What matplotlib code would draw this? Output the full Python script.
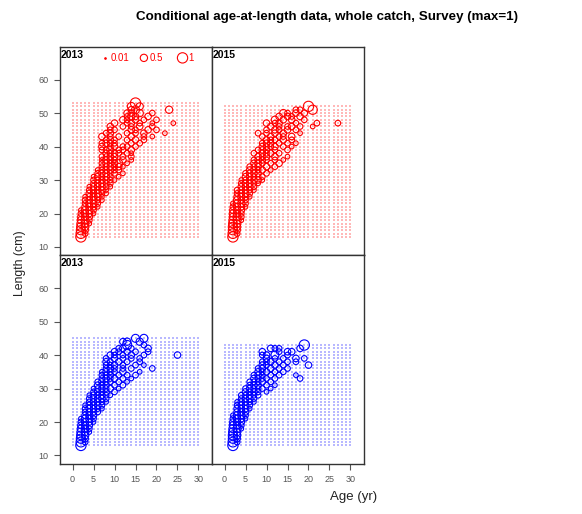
import numpy as np
import matplotlib
matplotlib.use("Agg")
import matplotlib.pyplot as plt

plt.rcParams["font.family"] = ["Liberation Sans", "DejaVu Sans"]

# conditional age-at-length proportions: {length bin (cm): {age (yr): proportion}}
caal_red_2013 = {
    13: {2: 1.0}, 14: {2: .9, 3: .3}, 15: {2: .8, 3: .4}, 16: {2: .7, 3: .5},
    17: {2: .6, 3: .5, 4: .2}, 18: {2: .5, 3: .6, 4: .3}, 19: {2: .4, 3: .5, 4: .4},
    20: {2: .3, 3: .5, 4: .4, 5: .2}, 21: {2: .2, 3: .5, 4: .5, 5: .3},
    22: {3: .4, 4: .5, 5: .4, 6: .2}, 23: {3: .3, 4: .5, 5: .4, 6: .3},
    24: {3: .3, 4: .4, 5: .5, 6: .3, 7: .2}, 25: {3: .2, 4: .4, 5: .5, 6: .4, 7: .2},
    26: {4: .4, 5: .4, 6: .5, 7: .3, 8: .2}, 27: {4: .3, 5: .4, 6: .4, 7: .4, 8: .2},
    28: {4: .2, 5: .4, 6: .4, 7: .4, 8: .3, 9: .2}, 29: {5: .3, 6: .4, 7: .4, 8: .3, 9: .3},
    30: {5: .3, 6: .3, 7: .4, 8: .4, 9: .3, 10: .2},
    31: {5: .2, 6: .4, 7: .3, 8: .4, 9: .3, 11: .2},
    32: {6: .3, 7: .4, 8: .4, 9: .3, 10: .3, 12: .2},
    33: {6: .2, 7: .3, 8: .4, 9: .4, 10: .3, 11: .3},
    34: {7: .3, 8: .3, 9: .4, 10: .3, 11: .4, 12: .2},
    35: {7: .3, 8: .4, 9: .3, 10: .4, 11: .6, 13: .2},
    36: {7: .2, 8: .4, 9: .4, 10: .3, 12: .4, 14: .2},
    37: {7: .3, 8: .3, 9: .4, 10: .4, 12: .3, 14: .3},
    38: {8: .4, 9: .3, 10: .4, 11: .3, 13: .3, 14: .2},
    39: {7: .3, 8: .3, 9: .5, 11: .3, 12: .3, 14: .4},
    40: {7: .4, 9: .3, 10: .4, 12: .3, 13: .3, 15: .3},
    41: {7: .3, 8: .4, 9: .3, 10: .3, 14: .3, 16: .3},
    42: {8: .3, 9: .4, 10: .3, 13: .3, 15: .4, 17: .3},
    43: {7: .4, 9: .3, 11: .3, 14: .4, 17: .3, 19: .2},
    44: {8: .3, 9: .4, 13: .3, 15: .3, 17: .4, 22: .2},
    45: {9: .3, 10: .3, 14: .4, 15: .3, 18: .4, 20: .3},
    46: {9: .4, 12: .3, 14: .3, 16: .4, 19: .3},
    47: {10: .4, 13: .3, 14: .4, 16: .3, 19: .2, 24: .2},
    48: {12: .4, 13: .3, 15: .4, 17: .3, 20: .3},
    49: {13: .3, 14: .5, 15: .4, 18: .4}, 50: {13: .4, 14: .4, 16: .5, 19: .3},
    51: {14: .4, 15: .6, 23: .5}, 52: {14: .6, 16: .5}, 53: {15: 1.0},
}

caal_red_2015 = {
    13: {2: 1.0}, 14: {2: .9, 3: .3}, 15: {2: .8, 3: .4}, 16: {2: .8, 3: .5},
    17: {2: .7, 3: .5}, 18: {2: .6, 3: .6, 4: .2}, 19: {2: .5, 3: .6, 4: .3},
    20: {2: .5, 3: .5, 4: .3}, 21: {2: .4, 3: .5, 4: .4},
    22: {2: .3, 3: .5, 4: .4, 5: .2}, 23: {2: .2, 3: .5, 4: .5, 5: .3},
    24: {3: .5, 4: .4, 5: .3}, 25: {3: .4, 4: .5, 5: .4, 6: .2},
    26: {3: .3, 4: .4, 5: .4, 6: .3}, 27: {3: .3, 4: .4, 5: .4, 6: .3, 7: .2},
    28: {4: .4, 5: .4, 6: .4, 7: .3}, 29: {4: .3, 5: .4, 6: .4, 7: .3, 8: .2},
    30: {4: .2, 5: .3, 6: .4, 7: .4, 8: .4, 9: .2},
    31: {5: .4, 6: .4, 7: .3, 8: .3, 9: .3}, 32: {5: .3, 6: .4, 7: .4, 8: .4, 10: .3},
    33: {6: .4, 7: .4, 8: .3, 9: .4, 11: .2}, 34: {6: .3, 7: .3, 8: .4, 10: .4, 12: .3},
    35: {7: .4, 8: .4, 9: .3, 11: .3, 13: .4},
    36: {7: .3, 8: .4, 9: .4, 10: .3, 12: .3, 14: .2},
    37: {8: .4, 9: .3, 10: .4, 12: .4, 15: .2}, 38: {7: .3, 9: .4, 10: .3, 11: .4, 13: .3},
    39: {8: .3, 9: .4, 10: .4, 12: .3, 15: .3},
    40: {9: .4, 10: .3, 11: .3, 12: .4, 14: .3, 16: .2},
    41: {9: .3, 10: .4, 11: .4, 13: .3, 15: .3, 17: .2},
    42: {10: .4, 11: .3, 12: .3, 14: .4, 16: .3},
    43: {9: .3, 11: .4, 13: .3, 14: .3, 16: .4},
    44: {8: .3, 10: .3, 12: .4, 14: .4, 18: .2},
    45: {10: .3, 12: .4, 13: .3, 15: .4, 17: .3},
    46: {11: .4, 13: .3, 15: .3, 16: .4, 18: .3, 21: .2},
    47: {10: .4, 12: .3, 13: .4, 17: .3, 22: .3, 27: .3},
    48: {12: .5, 14: .4, 16: .4, 19: .3}, 49: {13: .4, 15: .4, 16: .3, 18: .4},
    50: {14: .5, 15: .3, 17: .4, 19: .4}, 51: {17: .3, 18: .3, 21: .8},
    52: {20: 1.0},
}

caal_blue_2013 = {
    13: {2: 1.0}, 14: {2: .9, 3: .3}, 15: {2: .8, 3: .4}, 16: {2: .7, 3: .5},
    17: {2: .6, 3: .5, 4: .2}, 18: {2: .5, 3: .5, 4: .3}, 19: {2: .4, 3: .5, 4: .4},
    20: {2: .3, 3: .5, 4: .4, 5: .2}, 21: {2: .2, 3: .5, 4: .5, 5: .3},
    22: {3: .4, 4: .5, 5: .4}, 23: {3: .3, 4: .4, 5: .4, 6: .3},
    24: {3: .3, 4: .4, 5: .4, 6: .3, 7: .2}, 25: {3: .2, 4: .4, 5: .4, 6: .4, 7: .3},
    26: {4: .3, 5: .4, 6: .4, 7: .3, 8: .2}, 27: {4: .3, 5: .3, 6: .4, 7: .4, 8: .3},
    28: {4: .2, 5: .4, 6: .3, 7: .4, 8: .3, 9: .2}, 29: {5: .3, 6: .4, 7: .3, 8: .4, 10: .3},
    30: {5: .2, 6: .3, 7: .4, 8: .3, 9: .4, 11: .2},
    31: {6: .4, 7: .3, 8: .4, 10: .3, 12: .3},
    32: {6: .3, 7: .4, 8: .3, 9: .3, 11: .3, 13: .2},
    33: {7: .3, 8: .4, 9: .3, 10: .4, 12: .3, 14: .2},
    34: {7: .3, 8: .3, 9: .4, 11: .3, 13: .3, 15: .3},
    35: {7: .2, 8: .4, 9: .3, 10: .3, 12: .4, 16: .2},
    36: {8: .3, 9: .4, 10: .3, 12: .3, 14: .3, 19: .3},
    37: {8: .3, 9: .3, 10: .4, 12: .3, 15: .3, 17: .2},
    38: {8: .4, 9: .3, 11: .4, 13: .3, 16: .3},
    39: {8: .3, 10: .4, 12: .3, 14: .3, 16: .3},
    40: {9: .4, 10: .3, 12: .3, 14: .4, 17: .3, 25: .4},
    41: {10: .4, 11: .3, 13: .4, 15: .3, 18: .3},
    42: {11: .3, 12: .4, 14: .3, 18: .4}, 43: {13: .8, 17: .3},
    44: {12: .4, 13: .5, 16: .5}, 45: {15: .6, 17: .6},
}

caal_blue_2015 = {
    13: {2: 1.0}, 14: {2: .9, 3: .3}, 15: {2: .8, 3: .4}, 16: {2: .8, 3: .5},
    17: {2: .7, 3: .5}, 18: {2: .6, 3: .6, 4: .2}, 19: {2: .5, 3: .5, 4: .3},
    20: {2: .4, 3: .5, 4: .4}, 21: {2: .3, 3: .5, 4: .4, 5: .2},
    22: {2: .2, 3: .5, 4: .5, 5: .3}, 23: {3: .4, 4: .5, 5: .4},
    24: {3: .4, 4: .4, 5: .4, 6: .2}, 25: {3: .3, 4: .4, 5: .4, 6: .3},
    26: {3: .2, 4: .4, 5: .4, 6: .3, 7: .2}, 27: {4: .3, 5: .4, 6: .4, 7: .3},
    28: {4: .3, 5: .3, 6: .4, 7: .3, 8: .3}, 29: {5: .4, 6: .3, 7: .4, 8: .3, 10: .2},
    30: {5: .3, 6: .4, 7: .3, 8: .3, 9: .3, 11: .2},
    31: {6: .3, 7: .4, 8: .4, 10: .3, 12: .2}, 32: {6: .3, 7: .3, 8: .3, 9: .4, 11: .3},
    33: {7: .4, 8: .3, 9: .3, 10: .3, 12: .3, 18: .3},
    34: {7: .3, 8: .4, 9: .3, 11: .3, 13: .3, 17: .2},
    35: {8: .4, 9: .3, 10: .4, 12: .3, 14: .3},
    36: {8: .3, 9: .4, 11: .4, 13: .3, 15: .3},
    37: {9: .4, 10: .3, 12: .4, 14: .3, 20: .4},
    38: {9: .3, 10: .3, 11: .4, 13: .3, 15: .3, 17: .3},
    39: {10: .4, 12: .3, 14: .3, 17: .4, 19: .3},
    40: {9: .3, 10: .4, 12: .6, 15: .3}, 41: {9: .4, 13: .3, 15: .4, 16: .4},
    42: {11: .4, 12: .3, 13: .3, 18: .4}, 43: {19: 1.0},
}

panel_years = ["2013", "2015", "2013", "2015"]
panel_colors = ["red", "red", "blue", "blue"]
panel_data = [caal_red_2013, caal_red_2015, caal_blue_2013, caal_blue_2015]
ages_all = np.arange(0, 31)
legend_props = [0.01, 0.5, 1]

BUBBLE = 55  # marker area (pt^2) for a proportion of 1

fig = plt.figure(figsize=(5.82, 5.14), dpi=100)
W, H = 582, 514
pw, ph = 152, 208.5
lefts = [59.5, 211.5]
tops = [46.5, 255]

axes = []
for i in range(4):
    row, col = divmod(i, 2)
    ax = fig.add_axes([lefts[col] / W, 1 - (tops[row] + ph) / H, pw / W, ph / H])
    axes.append(ax)

for i, ax in enumerate(axes):
    data = panel_data[i]
    color = panel_colors[i]

    # every possible age/length cell as a faint dot
    lens = np.array(sorted(data))
    gx, gy = np.meshgrid(ages_all, np.arange(lens.min(), lens.max() + 1))
    ax.scatter(gx.ravel(), gy.ravel(), s=1.0, marker="s", color=color,
               alpha=0.28, linewidths=0)

    xs, ys, zs = [], [], []
    for length, row_d in data.items():
        for age, p in row_d.items():
            xs.append(age)
            ys.append(length)
            zs.append(p)
    ax.scatter(xs, ys, s=BUBBLE * np.array(zs), facecolors="none",
               edgecolors=color, linewidths=0.8)

    ax.set_xlim(-3.1, 33.1)
    ax.set_ylim(7.6, 69.9)
    ax.set_xticks(range(0, 31, 5))
    ax.set_yticks(range(10, 61, 10))
    for sp in ax.spines.values():
        sp.set_color("#333333")
        sp.set_linewidth(1.0)
    ax.tick_params(direction="out", length=4, width=0.8, color="#555555",
                   labelcolor="#555555", labelsize=6.5, pad=4)
    row, col = divmod(i, 2)
    if col == 1:
        ax.tick_params(left=False, labelleft=False)
    if row == 0:
        ax.tick_params(bottom=False, labelbottom=False)

    ax.text(0.01, 0.985, panel_years[i], transform=ax.transAxes, ha="left",
            va="top", fontsize=7.5, fontweight="bold", color="black")

# bubble size key in the first panel
ax0 = axes[0]
key_x = [7.8, 17.0, 26.2]
for kx, p in zip(key_x, legend_props):
    ax0.scatter([kx], [66.5], s=max(BUBBLE * p, 1.2),
                facecolors="none" if p > 0.05 else "red",
                edgecolors="red", linewidths=0.8, clip_on=False)
    ax0.text(kx + 1.3, 66.5, f"{p:g}", color="red", fontsize=7, va="center", ha="left")

fig.text(0.562, 0.967, "Conditional age-at-length data, whole catch, Survey (max=1)",
         ha="center", va="center", fontsize=9.6, fontweight="bold")
fig.text(0.034, 0.488, "Length (cm)", rotation=90, ha="center", va="center",
         fontsize=8.8, color="#222222")
fig.text(0.608, 0.033, "Age (yr)", ha="center", va="center", fontsize=9.5,
         color="#222222")

fig.savefig("out.png", dpi=100)
